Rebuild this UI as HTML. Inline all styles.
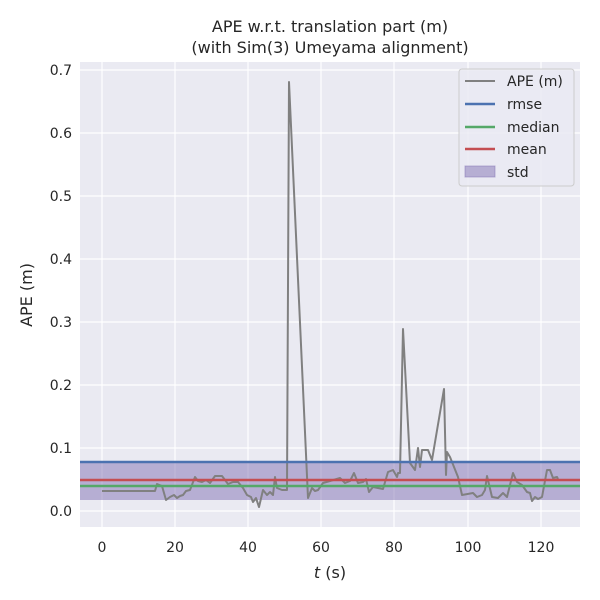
<!DOCTYPE html>
<html><head><style>body{margin:0;background:#fff}svg{display:block}text{font-family:"DejaVu Sans","Liberation Sans",sans-serif;fill:#262626}</style></head><body>
<svg width="600" height="600" viewBox="0 0 600 600">
<rect x="80" y="62" width="500" height="465" fill="#eaeaf2"/>
<g stroke="#fff" stroke-width="1.2">
<line x1="102" y1="62" x2="102" y2="527"/><line x1="175" y1="62" x2="175" y2="527"/><line x1="248" y1="62" x2="248" y2="527"/><line x1="321" y1="62" x2="321" y2="527"/><line x1="394" y1="62" x2="394" y2="527"/><line x1="468" y1="62" x2="468" y2="527"/><line x1="541" y1="62" x2="541" y2="527"/>
<line x1="80" y1="511" x2="580" y2="511"/><line x1="80" y1="448" x2="580" y2="448"/><line x1="80" y1="385" x2="580" y2="385"/><line x1="80" y1="322" x2="580" y2="322"/><line x1="80" y1="259" x2="580" y2="259"/><line x1="80" y1="196" x2="580" y2="196"/><line x1="80" y1="133" x2="580" y2="133"/><line x1="80" y1="70" x2="580" y2="70"/>
</g>
<rect x="80" y="463" width="500" height="37" fill="#8172b3" fill-opacity="0.5"/>
<polyline fill="none" stroke="#808080" stroke-width="2" stroke-linejoin="round" points="102,491 155,491 157,484 162,486 166,500 170,497 174,495 177,498 180,496 183,495 186,491 190,490 195,477 198,481 202,482 206,480 210,483 215,476 222,476 225,480 228,484 233,482 238,482 243,488 247,495 251,497 253,502 256,498 259,507 263,490 267,495 270,492 273,495 275,477 277,488 282,490 285,490 287,490 289,82 308,498 312,488 315,491 318,490 323,483 330,481 340,478 345,483 350,481 354,473 358,483 363,482 366,479 369,492 373,487 378,488 383,489 388,472 393,470 397,477 398,473 400,473 403,329 410,463 415,470 418,448 420,467 422,450 428,450 432,460 444,389 446,475 447,452 450,457 458,477 462,495 473,493 477,497 482,495 485,490 487,476 492,497 498,498 503,493 507,497 513,473 517,482 522,485 527,492 530,493 532,501 535,497 538,499 542,497 547,470 550,470 553,478 557,477 558,479"/>
<line x1="80" y1="462" x2="580" y2="462" stroke="#4c72b0" stroke-width="2.6"/>
<line x1="80" y1="486" x2="580" y2="486" stroke="#55a868" stroke-width="2.6"/>
<line x1="80" y1="480" x2="580" y2="480" stroke="#c44e52" stroke-width="2.6"/>
<g font-size="14" text-anchor="end">
<text x="72" y="516">0.0</text><text x="72" y="453">0.1</text><text x="72" y="390">0.2</text><text x="72" y="327">0.3</text><text x="72" y="264">0.4</text><text x="72" y="201">0.5</text><text x="72" y="138">0.6</text><text x="72" y="75">0.7</text>
</g>
<g font-size="14" text-anchor="middle">
<text x="102" y="552">0</text><text x="175" y="552">20</text><text x="248" y="552">40</text><text x="321" y="552">60</text><text x="394" y="552">80</text><text x="468" y="552">100</text><text x="541" y="552">120</text>
<text x="330" y="578" font-size="16"><tspan font-style="italic">t</tspan> (s)</text>
<text x="330" y="32" font-size="16">APE w.r.t. translation part (m)</text>
<text x="330" y="53" font-size="16">(with Sim(3) Umeyama alignment)</text>
</g>
<text transform="translate(32,295) rotate(-90)" font-size="16" text-anchor="middle">APE (m)</text>
<rect x="459" y="69" width="115" height="117" rx="3" fill="#eaeaf2" fill-opacity="0.8" stroke="#ccc"/>
<g font-size="14">
<line x1="465" y1="81" x2="495" y2="81" stroke="#808080" stroke-width="2"/><text x="507" y="86">APE (m)</text>
<line x1="465" y1="104" x2="495" y2="104" stroke="#4c72b0" stroke-width="2.6"/><text x="507" y="109">rmse</text>
<line x1="465" y1="127" x2="495" y2="127" stroke="#55a868" stroke-width="2.6"/><text x="507" y="132">median</text>
<line x1="465" y1="149" x2="495" y2="149" stroke="#c44e52" stroke-width="2.6"/><text x="507" y="154">mean</text>
<rect x="465" y="166" width="30" height="11" fill="#8172b3" fill-opacity="0.5" stroke="#8172b3" stroke-opacity="0.5"/><text x="507" y="177">std</text>
</g>
</svg>
</body></html>
